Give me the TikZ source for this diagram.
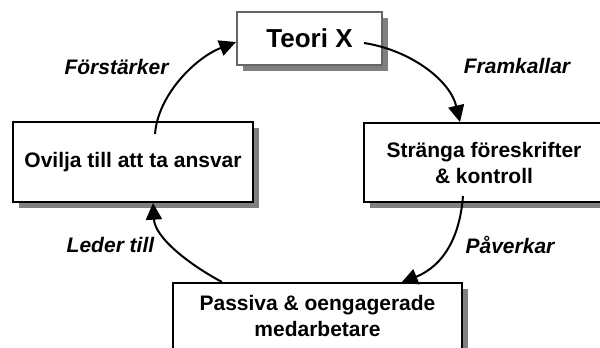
\documentclass[tikz,border=0pt]{standalone}
\usepackage{fontspec}
\setmainfont{Liberation Sans}
\usetikzlibrary{arrows.meta,shadows}
\begin{document}
\begin{tikzpicture}[x=0.75pt,y=-0.75pt,
  box/.style={draw=black,line width=1.5pt,fill=white,inner sep=0pt,align=center,
    font=\fontsize{15.75}{19.5}\selectfont\bfseries,
    drop shadow={shadow xshift=4.5pt,shadow yshift=-4.5pt,fill=black!50,opacity=1}},
  lbl/.style={font=\fontsize{15.75}{19.5}\selectfont\bfseries\itshape},
  arr/.style={line width=1.5pt,-{Triangle[length=12.5pt,width=12pt]}}]
\useasboundingbox (0,0) rectangle (600,347);
\clip (0,0) rectangle (600,347);
\node[box,draw=black!60,font=\fontsize{19.5}{22}\selectfont\bfseries,
  minimum width={145*0.75pt},minimum height={53*0.75pt}] (teori) at (309.5,38.5) {Teori X};
\node[box,minimum width={240*0.75pt},minimum height={80*0.75pt}] (ovilja) at (133,162) {Ovilja till att ta ansvar};
\node[box,minimum width={240*0.75pt},minimum height={79*0.75pt}] (strang) at (484,162.5) {Stränga föreskrifter\\\& kontroll};
\node[box,minimum width={289*0.75pt},minimum height={66*0.75pt}] (passiva) at (317.5,316) {Passiva \& oengagerade\\medarbetare};
\node[lbl] (l1) at (116.5,66.5) {Förstärker};
\node[lbl] (l2) at (517,65.5) {Framkallar};
\node[lbl] (l3) at (110.5,245) {Leder till};
\node[lbl] (l4) at (510,245) {Påverkar};
\draw[arr] ([shift={(22,13)}]ovilja.north) .. controls (158,95) and (195,58) .. ([shift={(0,3.5)}]teori.west);
\draw[arr] ([shift={(-19,4.5)}]teori.east) .. controls (410,50) and (450,80) .. ([shift={(-24,0)}]strang.north);
\draw[arr] ([shift={(-21,-7)}]strang.south) .. controls (460,235) and (445,265) .. ([shift={(83.5,1)}]passiva.north);
\draw[arr] ([shift={(-95.5,0)}]passiva.north) .. controls (190,265) and (155,238) .. ([shift={(20,0)}]ovilja.south);
\end{tikzpicture}
\end{document}
